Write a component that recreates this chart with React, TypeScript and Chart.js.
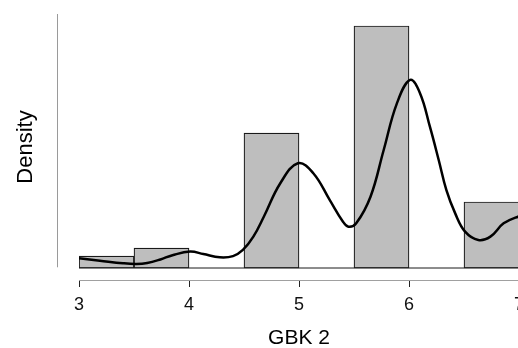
import React, { useEffect, useRef } from "react";
import { Chart, registerables } from "chart.js";

Chart.register(...registerables);

// Histogram bins (mid-points, width 0.5) and densities
const binCenters = [3.25, 3.75, 4.75, 5.75, 6.75];
const binDensity = [0.0505, 0.0842, 0.568, 1.019, 0.278];

// Kernel density curve
const curveX = [3.0, 3.19, 3.4, 3.52, 3.62, 3.74, 3.85, 4.01, 4.13, 4.28, 4.4, 4.49, 4.585, 4.68, 4.83, 4.99, 5.13, 5.28, 5.4, 5.45, 5.52, 5.65, 5.77, 5.89, 6.01, 6.1, 6.19, 6.27, 6.34, 6.42, 6.51, 6.63, 6.74, 6.86, 6.99, 7.05];
const curveY = [0.041, 0.031, 0.02, 0.017, 0.021, 0.036, 0.054, 0.069, 0.059, 0.045, 0.05, 0.076, 0.132, 0.216, 0.357, 0.441, 0.399, 0.286, 0.195, 0.174, 0.188, 0.3, 0.497, 0.693, 0.792, 0.736, 0.595, 0.455, 0.328, 0.23, 0.153, 0.118, 0.132, 0.188, 0.216, 0.22];

const xTicks = [3, 4, 5, 6, 7];
const xTitle = "GBK 2";
const yTitle = "Density";

const FONT = "'Liberation Sans', Arial, Helvetica, sans-serif";

export default function App() {
  const ref = useRef<HTMLCanvasElement | null>(null);

  useEffect(() => {
    if (!ref.current) return;
    const yAxisLine = {
      id: "yAxisLine",
      afterDatasetsDraw(chart: any) {
        const { ctx, chartArea, scales } = chart;
        const x = chartArea.left - 21.5;
        ctx.save();
        ctx.strokeStyle = "#9a9a9a";
        ctx.lineWidth = 1;
        ctx.beginPath();
        ctx.moveTo(x, scales.y.top);
        ctx.lineTo(x, scales.y.getPixelForValue(0.003));
        ctx.stroke();
        ctx.restore();
      },
    };

    const chart = new Chart(ref.current, {
      type: "bar",
      data: {
        datasets: [
          {
            type: "line",
            data: curveX.map((x, i) => ({ x, y: curveY[i] })),
            borderColor: "#000",
            borderWidth: 2.5,
            pointRadius: 0,
            tension: 0.4,
            fill: false,
            order: 0,
          } as any,
          {
            type: "line",
            data: [
              { x: 3, y: 0 },
              { x: 7, y: 0 },
            ],
            borderColor: "#1a1a1a",
            borderWidth: 1,
            pointRadius: 0,
            fill: false,
            order: 1,
          } as any,
          {
            type: "bar",
            data: binCenters.map((x, i) => ({ x, y: binDensity[i] })),
            backgroundColor: "#bebebe",
            borderColor: "#1a1a1a",
            borderWidth: 1.2,
            borderSkipped: false,
            barPercentage: 1,
            categoryPercentage: 1,
            order: 2,
          } as any,
        ],
      },
      options: {
        animation: false,
        responsive: false,
        layout: { padding: { top: 14, right: 26, left: 0, bottom: 0 } },
        plugins: { legend: { display: false }, tooltip: { enabled: false } },
        scales: {
          x: {
            type: "linear",
            min: 3,
            max: 7,
            offset: false,
            afterBuildTicks: (scale: any) => {
              scale.ticks = xTicks.map((v) => ({ value: v }));
            },
            afterFit: (scale: any) => {
              scale.height = 68;
            },
            ticks: {
              color: "#111",
              font: { family: FONT, size: 18 },
              padding: 7,
              maxRotation: 0,
            },
            grid: {
              display: true,
              offset: false,
              drawOnChartArea: false,
              drawTicks: true,
              tickLength: 7,
              color: "#222",
              lineWidth: 1,
            },
            border: { display: true, color: "#a0a0a0", width: 1 },
            title: {
              display: true,
              text: xTitle,
              color: "#000",
              font: { family: FONT, size: 21, lineHeight: 1 },
              padding: { top: 0, bottom: -1 },
            },
          },
          y: {
            type: "linear",
            min: -0.0505,
            max: 1.0695,
            afterFit: (scale: any) => {
              scale.width = 79;
            },
            ticks: { display: false },
            grid: { display: false, drawTicks: false },
            border: { display: false },
            title: {
              display: true,
              text: yTitle,
              color: "#000",
              font: { family: FONT, size: 22, lineHeight: 1.2 },
              padding: { top: 12.8, bottom: 0 },
            },
          },
        },
      },
      plugins: [yAxisLine],
    } as any);
    return () => chart.destroy();
  }, []);

  return (
    <div style={{ position: "absolute", left: 0, top: 0, width: 518, height: 348, overflow: "hidden", background: "#fff" }}>
      <canvas ref={ref} width={545} height={348} style={{ width: 545, height: 348, display: "block" }} />
    </div>
  );
}
